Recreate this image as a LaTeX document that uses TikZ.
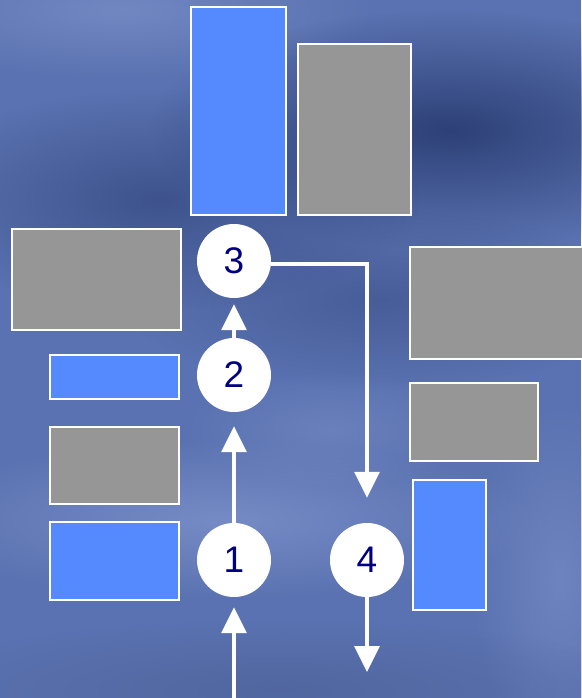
\documentclass[tikz,border=0pt]{standalone}
\usepackage{fontspec}
\setmainfont{Liberation Sans}
\usetikzlibrary{arrows.meta,fadings}
\definecolor{bgbase}{HTML}{5A72B1}
\definecolor{bgdark}{HTML}{2B3E74}
\definecolor{bglight}{HTML}{8296CE}
\definecolor{boxblue}{HTML}{5589FE}
\definecolor{boxgray}{HTML}{969696}
\definecolor{numcol}{HTML}{000080}
\tikzfading[name=softblob, inner color=transparent!0, outer color=transparent!100]
\tikzset{
  boxbase/.style={draw=white, line width=2.4pt, inner sep=0pt},
  bluebox/.style={boxbase, fill=boxblue},
  graybox/.style={boxbase, fill=boxgray},
  numcircle/.style={circle, fill=white, minimum size=74pt, inner sep=0pt,
    text=numcol, font=\fontsize{37}{37}\selectfont},
  flow/.style={draw=white, line width=3.3pt,
    -{Triangle[width=25pt,length=26pt]}},
  blob/.style={path fading=softblob, fill=#1},
}
\newcommand{\mybox}[6]{%
  \pgfmathsetmacro{\bw}{#4-#2}\pgfmathsetmacro{\bh}{#5-#3}%
  \node[#6, minimum width=\bw pt, minimum height=\bh pt] (#1) at ({(#2+#4)/2},{(#3+#5)/2}) {};}
\begin{document}
\begin{tikzpicture}[x=1pt,y=-1pt]
\useasboundingbox (0,0) rectangle (581,698);
% background
\fill[bgbase] (0,0) rectangle (581,698);
\fill[blob=bglight, opacity=0.6] (120,10) ellipse (260 and 70);
\fill[blob=bgdark, opacity=0.95] (450,130) ellipse (300 and 120);
\fill[blob=bgdark, opacity=0.6] (160,200) ellipse (260 and 110);
\fill[blob=bgdark, opacity=0.4] (380,300) ellipse (260 and 90);
\fill[blob=bglight, opacity=0.7] (220,520) ellipse (320 and 80);
\fill[blob=bglight, opacity=0.4] (330,430) ellipse (150 and 60);
\fill[blob=bglight, opacity=0.5] (560,580) ellipse (90 and 180);
\fill[blob=bgbase!80!black, opacity=0.5] (280,690) ellipse (380 and 70);
% boxes
\mybox{topblue}{191}{7}{286}{215}{bluebox}
\mybox{topgray}{298}{44}{411}{215}{graybox}
\mybox{leftgrayA}{12}{229}{181}{330}{graybox}
\mybox{leftblueA}{50}{355}{179}{399}{bluebox}
\mybox{leftgrayB}{50}{427}{179}{504}{graybox}
\mybox{leftblueB}{50}{522}{179}{600}{bluebox}
\mybox{rightgrayA}{410}{247}{600}{359}{graybox}
\mybox{rightgrayB}{410}{383}{538}{461}{graybox}
\mybox{rightblue}{413}{480}{486}{610}{bluebox}
% circles
\node[numcircle] (c3) at (234,261) {3};
\node[numcircle] (c2) at (234,375) {2};
\node[numcircle] (c1) at (234,560) {1};
\node[numcircle] (c4) at (367,560) {4};
% connectors
\coordinate (in) at (234,698);
\coordinate (out) at (367,672);
\draw[flow] (in) -- ([yshift=-10pt]c1.south);
\draw[flow] (c1.north) -- ([yshift=-14pt]c2.south);
\draw[flow] (c2.north) -- ([yshift=-6pt]c3.south);
\draw[flow] ([yshift=-3pt]c3.east) -| ([yshift=25pt]c4.north);
\draw[flow] (c4.south) -- (out);
\end{tikzpicture}
\end{document}
